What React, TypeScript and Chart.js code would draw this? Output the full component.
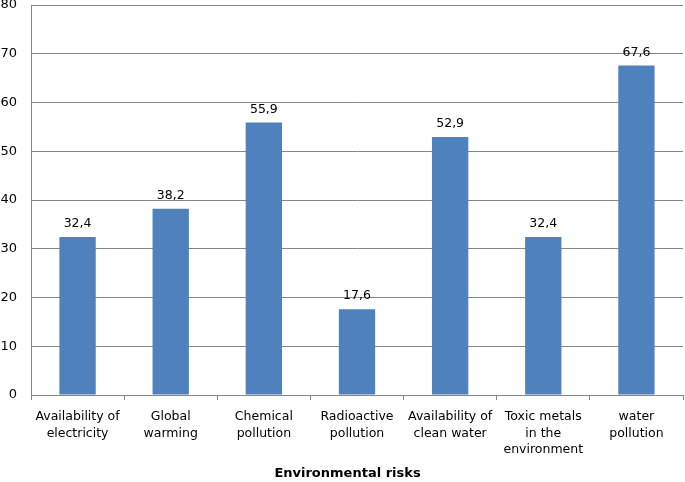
import React, { useEffect, useRef } from "react";
import { Chart, registerables } from "chart.js";

Chart.register(...registerables);

const categories: string[][] = [
  ["Availability of", "electricity"],
  ["Global", "warming"],
  ["Chemical", "pollution"],
  ["Radioactive", "pollution"],
  ["Availability of", "clean water"],
  ["Toxic metals", "in the", "environment"],
  ["water", "pollution"],
];
const values: number[] = [32.4, 38.2, 55.9, 17.6, 52.9, 32.4, 67.6];
const xTitle = "Environmental risks";

const FONT = "'DejaVu Sans', Verdana, sans-serif";

const valueLabels = {
  id: "valueLabels",
  afterDatasetsDraw(chart: any) {
    const ctx = chart.ctx;
    const meta = chart.getDatasetMeta(0);
    ctx.save();
    ctx.font = `12.5px ${FONT}`;
    ctx.fillStyle = "#000";
    ctx.textAlign = "center";
    ctx.textBaseline = "middle";
    meta.data.forEach((bar: any, i: number) => {
      const v = values[i];
      ctx.fillText(v.toFixed(1).replace(".", ","), bar.x, bar.y - 13);
    });
    ctx.restore();
  },
};

const axisTitle = {
  id: "axisTitle",
  afterDraw(chart: any) {
    const ctx = chart.ctx;
    ctx.save();
    ctx.font = `bold 13px ${FONT}`;
    ctx.fillStyle = "#000";
    ctx.textAlign = "center";
    ctx.textBaseline = "middle";
    ctx.fillText(xTitle, chart.width / 2 + 5, chart.height - 8);
    ctx.restore();
  },
};

export default function App() {
  const ref = useRef<HTMLCanvasElement>(null);
  useEffect(() => {
    if (!ref.current) return;
    const chart = new Chart(ref.current, {
      type: "bar",
      data: {
        labels: categories,
        datasets: [
          {
            data: values,
            backgroundColor: "#4f81bd",
            barPercentage: 0.39,
            categoryPercentage: 1,
          },
        ],
      },
      options: {
        animation: false,
        responsive: false,
        maintainAspectRatio: false,
        layout: { padding: { top: 5, right: 2, left: 0, bottom: 0 } },
        plugins: {
          legend: { display: false },
          tooltip: { enabled: false },
        },
        scales: {
          x: {
            grid: {
              drawOnChartArea: false,
              drawTicks: true,
              tickLength: 5,
              offset: true,
              color: "#868686",
            },
            border: { color: "#868686" },
            ticks: {
              color: "#000",
              font: { family: FONT, size: 12.5, lineHeight: 1.3 },
              maxRotation: 0,
              autoSkip: false,
              padding: 9,
            },
            afterFit: (s: any) => {
              s.height = 87;
              s.paddingLeft = 0;
              s.paddingRight = 0;
            },
          },
          y: {
            min: 0,
            max: 80,
            ticks: {
              stepSize: 10,
              color: "#000",
              font: { family: FONT, size: 13 },
              padding: 14,
            },
            grid: { color: "#868686", drawTicks: false },
            border: { color: "#868686" },
            afterFit: (s: any) => {
              s.width = 31;
              s.paddingTop = 0;
              s.paddingBottom = 0;
            },
          },
        },
      },
      plugins: [valueLabels, axisTitle],
    });
    return () => chart.destroy();
  }, []);
  return (
    <div style={{ position: "fixed", left: 0, top: 0, width: 685, height: 482, background: "#fff" }}>
      <canvas ref={ref} width={685} height={482} style={{ display: "block" }} />
    </div>
  );
}
